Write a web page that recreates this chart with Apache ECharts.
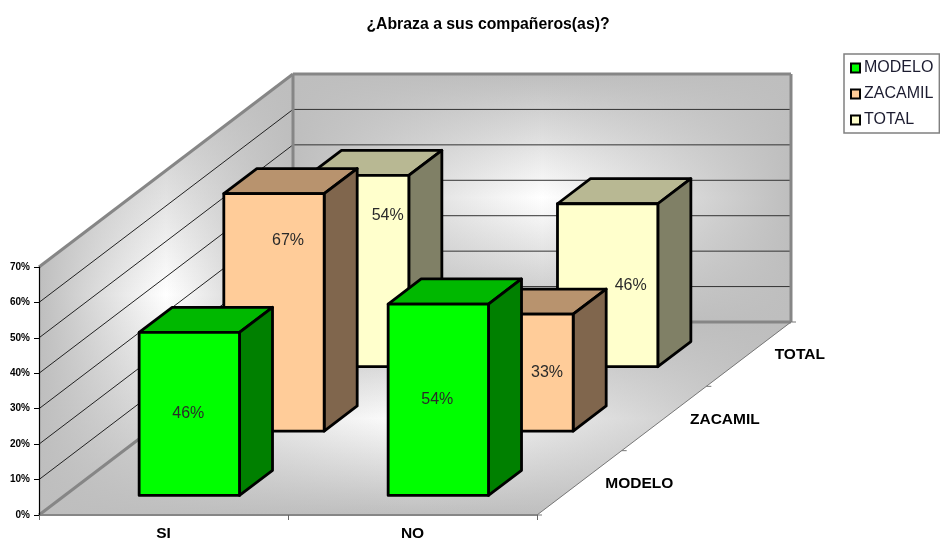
<!DOCTYPE html>
<html><head><meta charset="utf-8">
<style>html,body{margin:0;padding:0;background:#fff}#c{width:940px;height:543px}</style>
<script src="https://cdn.jsdelivr.net/npm/echarts@6/dist/echarts.min.js"></script></head>
<body><div id="c"></div>
<script>
const categories = ['SI', 'NO'];
const depthCategories = ['MODELO', 'ZACAMIL', 'TOTAL'];
const modelo = [46, 54];
const zacamil = [67, 33];
const total = [54, 46];
const yTicks = [10, 20, 30, 40, 50, 60];
const titleText = '¿Abraza a sus compañeros(as)?';

// projection of the 3D depth axis (one depth category)
const STEP_X = 254 / 3, STEP_Y = 193 / 3;
const BAR_W = 0.403, BAR_D = 0.39, BAR_FRONT = (1 - 0.39) / 2;
const NUDGE = {ZACAMIL: [[14, -72], [24, 0]], TOTAL: [[29, -55], [23, 0]], MODELO: [[-1, 0], [-1, 0]]};

function shade(c, k) {
  const n = parseInt(c.slice(1), 16);
  const f = v => Math.round(v * k);
  return `rgb(${f(n >> 16 & 255)},${f(n >> 8 & 255)},${f(n & 255)})`;
}
const G = echarts.graphic;
const EDGE = '#bebebe';
function gradPoly(points, box) {
  const vert = new G.LinearGradient(box[0], box[1], box[0], box[3], [
    {offset: 0, color: EDGE}, {offset: .5, color: '#fff'}, {offset: 1, color: EDGE}], true);
  const hor = new G.LinearGradient(box[0], box[1], box[2], box[1], [
    {offset: 0, color: 'rgba(190,190,190,1)'}, {offset: .5, color: 'rgba(190,190,190,0)'}, {offset: 1, color: 'rgba(190,190,190,1)'}], true);
  return [
    {type: 'polygon', shape: {points}, style: {fill: vert}},
    {type: 'polygon', shape: {points}, style: {fill: hor}}
  ];
}
function seg(a, b, stroke, lineWidth) {
  return {type: 'line', shape: {x1: a[0], y1: a[1], x2: b[0], y2: b[1]}, style: {stroke, lineWidth}};
}
function renderWalls(params, api) {
  const cs = params.coordSys;
  const L = cs.x, R = cs.x + cs.width, B = cs.y + cs.height, T = cs.y;
  const dx = STEP_X * depthCategories.length, dy = STEP_Y * depthCategories.length;
  const kids = [];
  kids.push(...gradPoly([[L, B], [R, B], [R + dx, B - dy], [L + dx, B - dy]], [L, B - dy, R + dx, B]));
  kids.push(...gradPoly([[L, B], [L + dx, B - dy], [L + dx, T - dy], [L, T]], [L, T - dy, L + dx, B]));
  kids.push(...gradPoly([[L + dx, B - dy], [R + dx, B - dy], [R + dx, T - dy], [L + dx, T - dy]], [L + dx, T - dy, R + dx, B - dy]));
  yTicks.forEach(v => {
    const y = api.coord([0, v])[1];
    kids.push(seg([L, y], [L + dx, y - dy], '#222', 1));
    kids.push(seg([L + dx, y - dy], [R + dx, y - dy], '#333', 1));
  });
  const g = '#868686';
  kids.push(seg([L, T], [L + dx, T - dy], g, 3));
  kids.push(seg([L + dx, T - dy], [R + dx, T - dy], g, 3));
  kids.push(seg([L + dx, T - dy], [L + dx, B - dy], g, 3));
  kids.push(seg([R + dx, T - dy], [R + dx, B - dy], g, 3));
  kids.push(seg([L, B], [L + dx, B - dy], g, 3));
  kids.push(seg([L + dx, B - dy], [R + dx, B - dy], g, 3));
  kids.push(seg([L, B], [R, B], g, 2));
  kids.push(seg([R, B], [R + dx, B - dy], '#777', 1));
  for (let i = 0; i <= depthCategories.length; i++) {
    const p = [R + STEP_X * i, B - STEP_Y * i];
    kids.push(seg(p, [p[0] + 5, p[1]], '#777', 1));
  }
  depthCategories.forEach((name, i) => {
    kids.push({type: 'text', style: {
      text: name, x: R + STEP_X * (i + .5) + 26, y: B - STEP_Y * (i + .5) + 1,
      font: 'bold 15.5px "Liberation Sans"', fill: '#000', textAlign: 'left', textVerticalAlign: 'middle'}});
  });
  return {type: 'group', children: kids};
}
function renderBar(depth, color, name) {
  return function (params, api) {
    const cat = api.value(0), val = api.value(1);
    const base = api.coord([cat, 0]), topP = api.coord([cat, val]);
    const w = api.size([1, 0])[0] * BAR_W;
    const fx = STEP_X * (depth + BAR_FRONT), fy = STEP_Y * (depth + BAR_FRONT);
    const bx = STEP_X * BAR_D, by = STEP_Y * BAR_D;
    const l = base[0] + fx - w / 2, r = l + w, b = base[1] - fy, t = topP[1] - fy;
    const st = f => ({fill: f, stroke: '#000', lineWidth: 2.8, lineJoin: 'round'});
    const n = NUDGE[name][cat];
    return {type: 'group', children: [
      {type: 'polygon', shape: {points: [[l, t], [r, t], [r + bx, t - by], [l + bx, t - by]]}, style: st(shade(color, .72))},
      {type: 'polygon', shape: {points: [[r, t], [r + bx, t - by], [r + bx, b - by], [r, b]]}, style: st(shade(color, .5))},
      {type: 'polygon', shape: {points: [[l, t], [r, t], [r, b], [l, b]]}, style: st(color)},
      {type: 'text', style: {text: val + '%', x: (l + r) / 2 + n[0], y: (t + b) / 2 + n[1],
        font: '16px "Liberation Sans"', fill: '#2a2a2a', textAlign: 'center', textVerticalAlign: 'middle'}}
    ]};
  };
}
function barSeries(name, values, depth, color) {
  return {
    type: 'custom', name, coordinateSystem: 'cartesian2d', z: 5 - depth, silent: true,
    clip: false, encode: {x: 0, y: 1},
    itemStyle: {color},
    data: values.map((v, i) => [i, v]),
    renderItem: renderBar(depth, color, name)
  };
}
const colors = {MODELO: '#00ff00', ZACAMIL: '#ffcc99', TOTAL: '#ffffcc'};
const chart = echarts.init(document.getElementById('c'), null, {renderer: 'canvas'});
chart.setOption({
  animation: false,
  backgroundColor: '#fff',
  title: {text: titleText, left: 488, top: 17, textAlign: 'center', padding: 0,
    textStyle: {fontFamily: 'Liberation Sans', fontWeight: 'bold', fontSize: 15.8, color: '#000'}},
  legend: {
    left: 844, top: 54, orient: 'vertical', align: 'left', itemWidth: 9, itemHeight: 9, itemGap: 10,
    padding: [6, 6, 5, 6], borderColor: '#808080', borderWidth: 1.5, selectedMode: false,
    textStyle: {fontFamily: 'Liberation Sans', fontSize: 16, color: '#1c1c30', padding: [0, 0, 0, -1]},
    data: depthCategories.map(name => ({name, icon: 'rect',
      itemStyle: {color: colors[name], borderColor: '#000', borderWidth: 2}}))
  },
  grid: {left: 39, right: 403, top: 267, bottom: 28},
  xAxis: {type: 'category', data: categories, z: 2,
    axisLine: {show: false}, axisTick: {show: true, length: 5, lineStyle: {color: '#666', width: 1}},
    axisLabel: {fontFamily: 'Liberation Sans', fontWeight: 'bold', fontSize: 15.5, color: '#000', margin: 11}},
  yAxis: {type: 'value', min: 0, max: 70, interval: 10, z: 2,
    axisLine: {show: true, lineStyle: {color: '#000', width: 1.2}},
    axisTick: {show: true, length: 5, lineStyle: {color: '#000', width: 1}},
    splitLine: {show: false},
    axisLabel: {formatter: '{value}%', fontFamily: 'Liberation Sans', fontWeight: 'bold', fontSize: 10, color: '#000', margin: 9}},
  series: [
    {type: 'custom', name: 'walls', coordinateSystem: 'cartesian2d', z: 1, silent: true, clip: false,
      encode: {x: 0, y: 1}, data: [[0, 0]], renderItem: renderWalls},
    barSeries('MODELO', modelo, 0, colors.MODELO),
    barSeries('ZACAMIL', zacamil, 1, colors.ZACAMIL),
    barSeries('TOTAL', total, 2, colors.TOTAL)
  ]
});
</script></body></html>
